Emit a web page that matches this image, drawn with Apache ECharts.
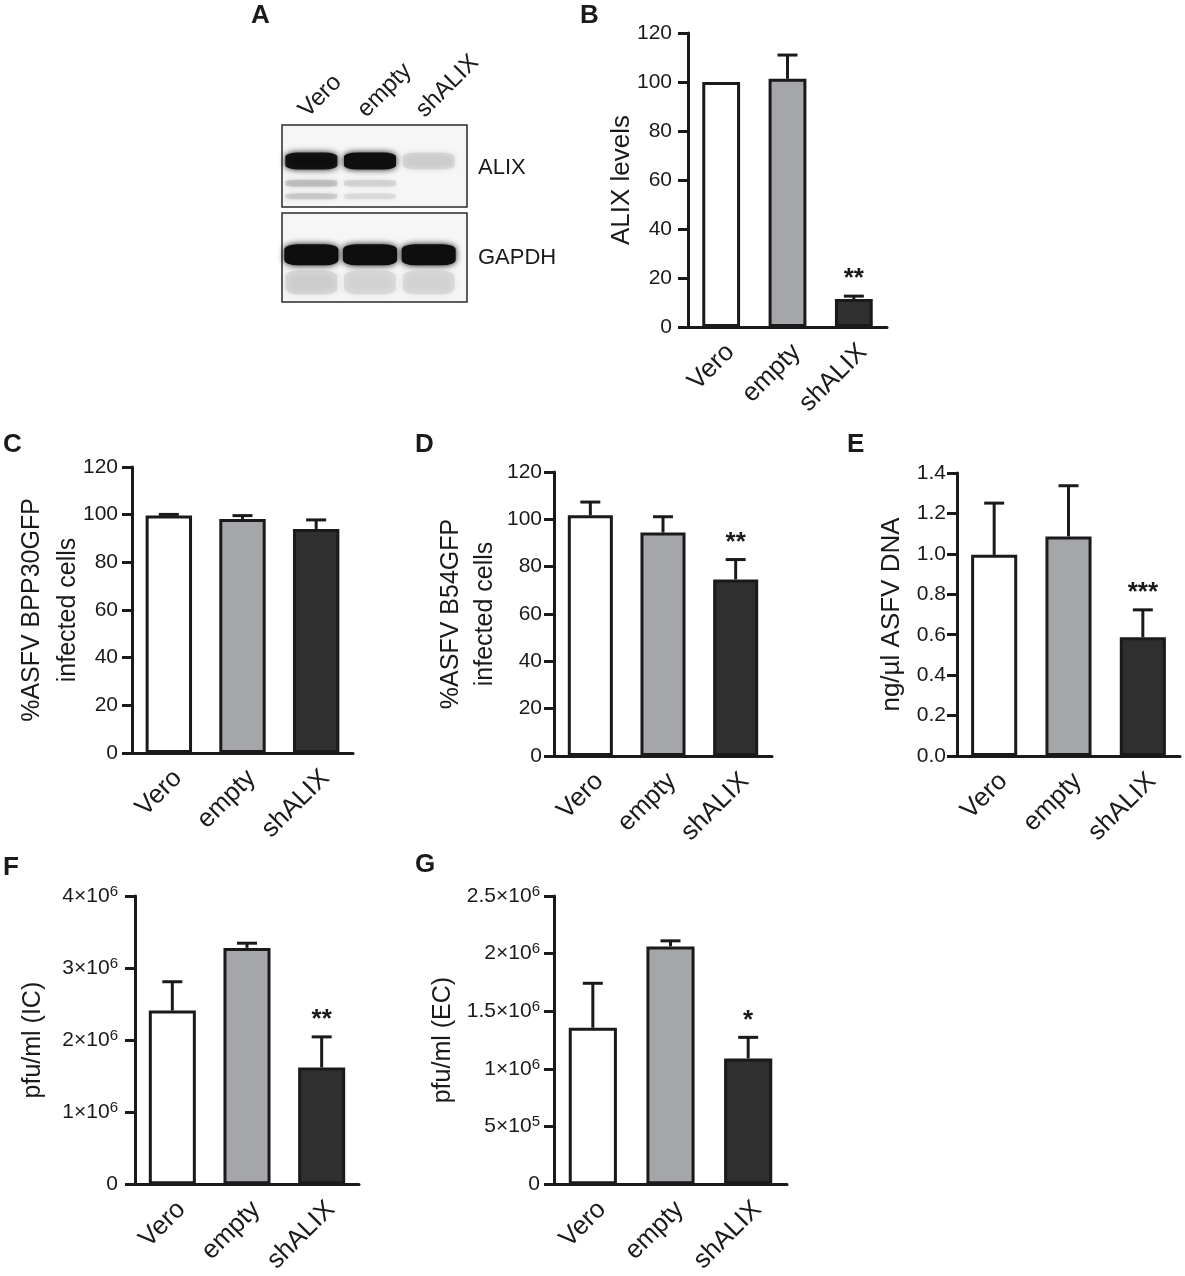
<!DOCTYPE html>
<html>
<head>
<meta charset="utf-8">
<script src="https://cdn.jsdelivr.net/npm/echarts@6/dist/echarts.min.js"></script>
<style>
html, body { margin: 0; padding: 0; background: #fff; }
#main { width: 1185px; height: 1276px; }
</style>
</head>
<body>
<div id="main"></div>
<script>
// groups and bar fills
var groups = ['Vero', 'empty', 'shALIX'];
var fills = ['#ffffff', '#a5a6a9', '#2f2f2f'];

// B: ALIX levels
var alixMean = [100, 101.3, 11.4];
var alixErr = [0, 9.7, 1.2];
var alixStars = ['', '', '**'];
// C: %ASFV BPP30GFP infected cells
var bppMean = [99.6, 98.2, 94.0];
var bppErr = [0.5, 1.4, 3.8];
var bppStars = ['', '', ''];
// D: %ASFV B54GFP infected cells
var b54Mean = [101.7, 94.4, 74.6];
var b54Err = [5.6, 6.7, 8.4];
var b54Stars = ['', '', '**'];
// E: ng/ul ASFV DNA
var dnaMean = [0.995, 1.086, 0.588];
var dnaErr = [0.256, 0.251, 0.135];
var dnaStars = ['', '', '***'];
// F: pfu/ml (IC)
var icMean = [2.41e6, 3.28e6, 1.62e6];
var icErr = [0.40e6, 0.065e6, 0.425e6];
var icStars = ['', '', '**'];
// G: pfu/ml (EC)
var ecMean = [1.357e6, 2.063e6, 1.091e6];
var ecErr = [0.386e6, 0.048e6, 0.183e6];
var ecStars = ['', '', '*'];

// tick labels for the pfu axes: value, base, exponent
var icTicks = [[0, '0', ''], [1e6, '1×10', '6'], [2e6, '2×10', '6'], [3e6, '3×10', '6'], [4e6, '4×10', '6']];
var ecTicks = [[0, '0', ''], [5e5, '5×10', '5'], [1e6, '1×10', '6'], [1.5e6, '1.5×10', '6'], [2e6, '2×10', '6'], [2.5e6, '2.5×10', '6']];

// A: western blot, band intensity per lane
var blotLanes = ['Vero', 'empty', 'shALIX'];
var blotProteins = ['ALIX', 'GAPDH'];
var alixBand = [0.95, 1.0, 0.09];
var alixLowBand = [0.15, 0.09, 0.0];
var alixLowBand2 = [0.12, 0.07, 0.0];
var gapdhBand = [1.0, 1.0, 1.0];
var gapdhSmear = [0.09, 0.08, 0.08];

var ink = '#1a1a1a';
var font = 'Liberation Sans, Arial, Helvetica, sans-serif';

var grids = [], xAxes = [], yAxes = [], series = [];

function tickFormatter(ticks) {
	return function(v) {
		for (var i = 0; i < ticks.length; i++) {
			if (Math.abs(ticks[i][0] - v) < 1) {
				return ticks[i][2] ? '{b|' + ticks[i][1] + '}{s|' + ticks[i][2] + '}' : '{b|' + ticks[i][1] + '}';
			}
		}
		return '';
	};
}

function addPanel(p) {
	var k = grids.length;
	grids.push({ left: p.left, top: p.top, width: p.width, height: p.height });
	xAxes.push({
		gridIndex: k, type: 'category', data: groups,
		axisLine: { lineStyle: { color: ink, width: 3 } },
		axisTick: { alignWithLabel: true, length: 10, lineStyle: { color: ink, width: 3 } },
		axisLabel: { rotate: 45, interval: 0, fontSize: 26, color: ink, margin: 12, verticalAlign: 'top', fontFamily: font }
	});
	var yAxis = {
		gridIndex: k, type: 'value', min: 0, max: p.max, interval: p.step,
		splitLine: { show: false },
		axisLine: { show: true, lineStyle: { color: ink, width: 3 } },
		axisTick: { show: true, length: 10, lineStyle: { color: ink, width: 3 } },
		axisLabel: { fontSize: 21, color: ink, margin: p.labelGap, fontFamily: font, formatter: p.fmt },
		name: p.name, nameLocation: 'middle', nameRotate: 90, nameGap: p.nameGap, nameMoveOverlap: false,
		nameTextStyle: { fontSize: p.nameFont || 25, color: ink, lineHeight: p.nameLH || 30, fontFamily: font }
	};
	if (p.rich) {
		yAxis.axisLabel.rich = {
			b: { fontSize: 21, lineHeight: 24, color: ink, fontFamily: font },
			s: { fontSize: 15, lineHeight: 15, verticalAlign: 'top', color: ink, fontFamily: font }
		};
	}
	yAxes.push(yAxis);
	series.push({
		type: 'bar', xAxisIndex: k, yAxisIndex: k, silent: true, barWidth: p.barW,
		itemStyle: { borderColor: ink, borderWidth: 3 },
		data: p.mean.map(function(v, i) { return { value: v, itemStyle: { color: fills[i] } }; })
	});
	var stars = p.stars;
	series.push({
		type: 'custom', xAxisIndex: k, yAxisIndex: k, silent: true, z: 5,
		data: p.mean.map(function(v, i) { return [i, v, p.err[i]]; }),
		renderItem: function(params, api) {
			var m = api.value(1), e = api.value(2);
			var base = api.coord([api.value(0), m]);
			var top = api.coord([api.value(0), m + e]);
			var kids = [];
			if (e > 0) {
				kids.push({ type: 'line', shape: { x1: base[0], y1: base[1], x2: top[0], y2: top[1] }, style: { stroke: ink, lineWidth: 3 } });
				kids.push({ type: 'line', shape: { x1: top[0] - 10, y1: top[1], x2: top[0] + 10, y2: top[1] }, style: { stroke: ink, lineWidth: 3 } });
			}
			var s = stars[params.dataIndex];
			if (s) {
				kids.push({ type: 'text', x: top[0], y: top[1] - 17, style: { text: s, fontSize: 26, fontWeight: 'bold', fill: ink, align: 'center', verticalAlign: 'middle', fontFamily: font } });
			}
			return { type: 'group', children: kids };
		}
	});
}

addPanel({ left: 688, top: 33, width: 199, height: 294, max: 120, step: 20, barW: '57%', labelGap: 16,
	mean: alixMean, err: alixErr, stars: alixStars, name: 'ALIX levels', nameGap: 51, nameFont: 26 });
addPanel({ left: 132, top: 467, width: 221, height: 286, max: 120, step: 20, barW: '63%', labelGap: 14,
	mean: bppMean, err: bppErr, stars: bppStars, name: '%ASFV BPP30GFP\ninfected cells', nameGap: 46, nameLH: 36 });
addPanel({ left: 554, top: 472, width: 218, height: 284, max: 120, step: 20, barW: '62%', labelGap: 12,
	mean: b54Mean, err: b54Err, stars: b54Stars, name: '%ASFV B54GFP\ninfected cells', nameGap: 52, nameLH: 34 });
addPanel({ left: 957, top: 473, width: 223, height: 283, max: 1.4, step: 0.2, barW: '62%', labelGap: 11,
	mean: dnaMean, err: dnaErr, stars: dnaStars, name: 'ng/µl ASFV DNA', nameGap: 50, nameFont: 26,
	fmt: function(v) { return v.toFixed(1); } });
addPanel({ left: 135, top: 896, width: 224, height: 293, max: 4e6, step: 1e6, barW: '63%', labelGap: 17,
	mean: icMean, err: icErr, stars: icStars, name: 'pfu/ml (IC)', nameGap: 87,
	fmt: tickFormatter(icTicks), rich: true });
addPanel({ left: 554, top: 896, width: 233, height: 291, max: 2.5e6, step: 5e5, barW: '62%', labelGap: 14,
	mean: ecMean, err: ecErr, stars: ecStars, name: 'pfu/ml (EC)', nameGap: 96,
	fmt: tickFormatter(ecTicks), rich: true });

// blot lanes: bands drawn on a hidden category grid inside each box
function addBlot(top, height, showLanes, bands) {
	var k = grids.length;
	grids.push({ left: 282, top: top, width: 176, height: height });
	xAxes.push({
		gridIndex: k, type: 'category', data: blotLanes, position: 'top',
		axisLine: { show: false }, axisTick: { show: false },
		axisLabel: { show: showLanes, rotate: 45, interval: 0, fontSize: 24, color: ink, margin: 3, verticalAlign: 'bottom', fontFamily: font }
	});
	yAxes.push({ gridIndex: k, type: 'value', min: 0, max: 1, show: false });
	bands.forEach(function(b) {
		series.push({
			type: 'scatter', xAxisIndex: k, yAxisIndex: k, silent: true, z: 3,
			symbol: 'roundRect', symbolSize: b.size,
			itemStyle: { color: '#0e0e0e', shadowBlur: b.blur, shadowColor: '#0e0e0e' },
			data: b.vals.map(function(v, i) { return { value: [i, b.y], itemStyle: { opacity: v } }; })
		});
	});
}
addBlot(125, 82, true, [
	{ vals: alixBand, y: 0.56, size: [52, 17], blur: 6 },
	{ vals: alixLowBand, y: 0.29, size: [52, 7], blur: 5 },
	{ vals: alixLowBand2, y: 0.13, size: [52, 6], blur: 5 }
]);
addBlot(213, 89, false, [
	{ vals: gapdhBand, y: 0.53, size: [54, 21], blur: 6 },
	{ vals: gapdhSmear, y: 0.22, size: [52, 24], blur: 8 }
]);

var letters = [['A', 251, 3], ['B', 580, 3], ['C', 3, 432], ['D', 415, 432], ['E', 847, 432], ['F', 3, 855], ['G', 415, 852]];

var chart = echarts.init(document.getElementById('main'), null, { renderer: 'canvas' });
chart.setOption({
	backgroundColor: '#fff',
	animation: false,
	textStyle: { fontFamily: font },
	title: letters.map(function(l) {
		return { text: l[0], left: l[1], top: l[2], padding: 0, textStyle: { fontSize: 26, fontWeight: 'bold', color: ink, fontFamily: font } };
	}),
	grid: grids,
	xAxis: xAxes,
	yAxis: yAxes,
	series: series,
	graphic: [
		{ type: 'rect', z: 0, shape: { x: 282, y: 125, width: 185, height: 82 }, style: { fill: '#f6f6f6', stroke: '#2a2a2a', lineWidth: 1.5 } },
		{ type: 'rect', z: 0, shape: { x: 282, y: 213, width: 185, height: 89 }, style: { fill: '#f6f6f6', stroke: '#2a2a2a', lineWidth: 1.5 } },
		{ type: 'text', left: 478, top: 157, style: { text: blotProteins[0], fontSize: 22, fill: ink, fontFamily: font } },
		{ type: 'text', left: 478, top: 247, style: { text: blotProteins[1], fontSize: 22, fill: ink, fontFamily: font } }
	]
});
</script>
</body>
</html>
